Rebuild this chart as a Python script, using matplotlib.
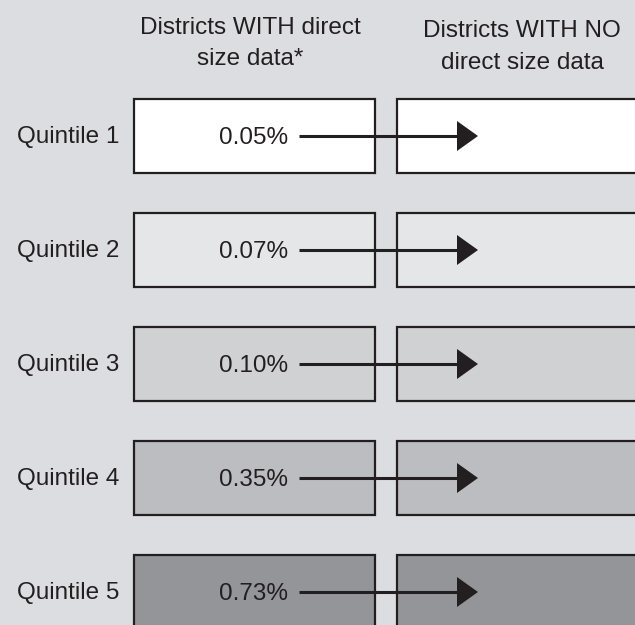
import matplotlib
matplotlib.use("Agg")
import matplotlib.pyplot as plt
from matplotlib.patches import Rectangle, Polygon
from matplotlib import font_manager

# data
quintiles = ["Quintile 1", "Quintile 2", "Quintile 3", "Quintile 4", "Quintile 5"]
values = ["0.05%", "0.07%", "0.10%", "0.35%", "0.73%"]
fills = ["#ffffff", "#e5e6e8", "#d0d1d3", "#bcbdc0", "#939598"]
header_with = ["Districts WITH direct", "size data*"]
header_without = ["Districts WITH NO", "direct size data"]

bg = "#dcdde0"
ink = "#231f20"

names = {f.name for f in font_manager.fontManager.ttflist}
fam = "Liberation Sans Narrow" if "Liberation Sans Narrow" in names else "Liberation Sans"
plt.rcParams["font.family"] = [fam, "DejaVu Sans"]

fig = plt.figure(figsize=(6.35, 6.25), dpi=100, facecolor=bg)
ax = fig.add_axes([0, 0, 1, 1])
ax.set_xlim(0, 635)
ax.set_ylim(625, 0)
ax.axis("off")
ax.set_facecolor(bg)

fs = 17.5
# column headers, one line at a time
for k, line in enumerate(header_with):
    ax.text(250, 34 + 31 * k, line, ha="center", va="baseline", fontsize=fs, color=ink)
for k, line in enumerate(header_without):
    ax.text(522, 37 + 32 * k, line, ha="center", va="baseline", fontsize=fs, color=ink)

top0, pitch, h = 99, 114, 74
for i, (q, v, c) in enumerate(zip(quintiles, values, fills)):
    top = top0 + i * pitch
    yc = top + h / 2
    ax.add_patch(Rectangle((134, top), 241, h, facecolor=c, edgecolor=ink, lw=1.6))
    ax.add_patch(Rectangle((397, top), 260, h, facecolor=c, edgecolor=ink, lw=1.6))
    ax.text(119, yc + 1, q, ha="right", va="center", fontsize=fs, color=ink)
    ax.text(254, yc + 2, v, ha="center", va="center", fontsize=fs, color=ink)
    ax.plot([299, 458], [yc, yc], color=ink, lw=2.2, solid_capstyle="butt")
    ax.add_patch(Polygon([[457, yc - 15], [478, yc], [457, yc + 15]],
                         closed=True, facecolor=ink, edgecolor="none"))

fig.savefig("out.png", dpi=100, facecolor=bg)
